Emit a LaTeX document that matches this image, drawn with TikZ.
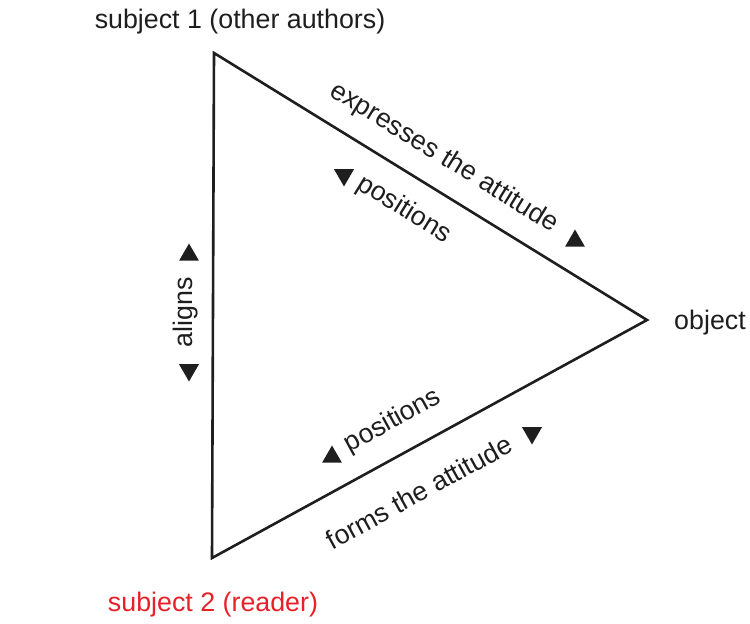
\documentclass[tikz,border=0pt]{standalone}
\usepackage{fontspec}
\setmainfont{Liberation Sans}
\usepackage{xcolor}
\definecolor{readerred}{RGB}{232,32,40}
\definecolor{ink}{RGB}{30,30,30}
\usetikzlibrary{shapes.geometric}

\begin{document}
\begin{tikzpicture}[
    x=0.5pt, y=-0.5pt,
    font=\fontsize{13.4}{16}\selectfont,
    every node/.style={text=ink},
    edge/.style={draw=ink, line width=1.3pt, line join=miter},
    tipup/.style={regular polygon, regular polygon sides=3, fill=ink, inner sep=0pt, minimum size=11.5pt},
    tipdown/.style={tipup, shape border rotate=180}
  ]
  \useasboundingbox (0,0) rectangle (750,624);

  % Vertices of the triangle
  \coordinate (subj1) at (214,53);
  \coordinate (obj) at (647,320);
  \coordinate (subj2) at (212,558);

  \draw[edge] (subj1) -- (obj) -- (subj2) -- cycle;

  % Vertex labels
  \node (subj1lbl) at (240,22) {subject 1 (other authors)};
  \node (objlbl) at (710,323) {object};
  \node[text=readerred] (subj2lbl) at (213,605) {subject 2 (reader)};

  % Upper edge: subject 1 -- object
  \node[rotate=-31.7] (expr) at (444,158) {expresses the attitude};
  \node[rotate=-31.7] (pos1) at (404,210) {positions};
  \node[tipup] (expr-tip) at (575,241) {};
  \node[tipdown] (pos1-tip) at (344,175) {};

  % Lower edge: subject 2 -- object
  \node[rotate=28.7] (pos2) at (393,421) {positions};
  \node[rotate=28.7] (form) at (419,492) {forms the attitude};
  \node[tipup] (pos2-tip) at (332,457) {};
  \node[tipdown] (form-tip) at (532,433) {};

  % Left edge: subject 1 -- subject 2
  \node[rotate=90] (align) at (186,312) {aligns};
  \node[tipup] (align-up) at (189,255) {};
  \node[tipdown] (align-down) at (189,370) {};

\end{tikzpicture}
\end{document}
